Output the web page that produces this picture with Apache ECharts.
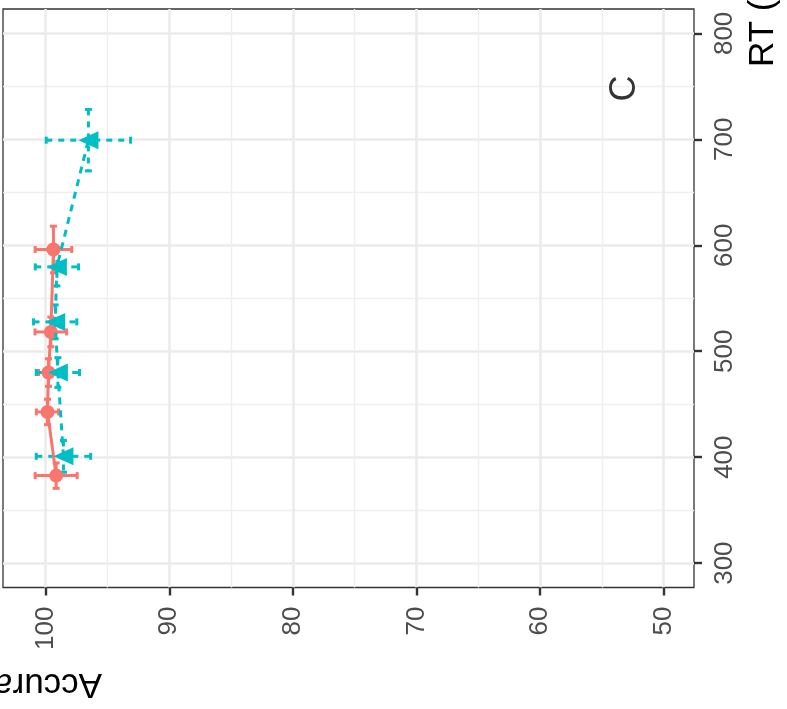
<!DOCTYPE html>
<html>
<head>
<meta charset="utf-8">
<script src="https://cdn.jsdelivr.net/npm/echarts@6/dist/echarts.min.js"></script>
<style>
html,body{margin:0;padding:0;background:#fff;}
#chart{width:787px;height:709px;}
</style>
</head>
<body>
<div id="chart"></div>
<script>
// Accuracy (%) and RT (ms) per condition, with error sizes
const redAcc    = [99.15, 99.85, 99.77, 99.58, 99.37];
const redRT     = [382.6, 442.7, 479.9, 518.2, 596.0];
const redAccErr = [1.7, 0.9, 0.8, 1.28, 1.48];
const redRTErr  = [12, 12, 13, 14, 22];

const tealAcc    = [98.56, 99.01, 99.23, 99.09, 96.54];
const tealRT     = [400.8, 479.9, 527.7, 579.6, 699.2];
const tealAccErr = [2.2, 1.75, 1.75, 1.75, 3.41];
const tealRTErr  = [15, 14, 16, 18, 29];

const accTicks = [50, 60, 70, 80, 90, 100];
const accMinor = [55, 65, 75, 85, 95];
const rtTicks  = [300, 400, 500, 600, 700, 800];
const rtMinor  = [350, 450, 550, 650, 750];

const panelLabel = 'C';
const panelLabelPos = [53.1, 748];

const FONT = 'Liberation Sans, Arial, Helvetica, sans-serif';
const RED = '#F8766D', TEAL = '#00BFC4';

function pts(a, r) { return a.map((v, i) => [v, r[i]]); }
function errs(a, r, ae, re) { return a.map((v, i) => [v, r[i], ae[i], re[i]]); }

function errRender(color, dash) {
  return function (params, api) {
    const acc = api.value(0), rt = api.value(1), ae = api.value(2), re = api.value(3);
    const l = api.coord([acc + ae, rt]), r = api.coord([acc - ae, rt]);
    const t = api.coord([acc, rt + re]), b = api.coord([acc, rt - re]);
    const cap = 3.5;
    const style = { stroke: color, lineWidth: 3, lineDash: dash, fill: null };
    const capStyle = { stroke: color, lineWidth: 3, fill: null };
    const ln = (x1, y1, x2, y2, s) => ({ type: 'line', shape: { x1, y1, x2, y2 }, style: s || style });
    return {
      type: 'group',
      children: [
        ln(l[0], l[1], r[0], r[1]),
        ln(l[0], l[1] - cap, l[0], l[1] + cap, capStyle),
        ln(r[0], r[1] - cap, r[0], r[1] + cap, capStyle),
        ln(t[0], t[1], b[0], b[1]),
        ln(t[0] - cap, t[1], t[0] + cap, t[1], capStyle),
        ln(b[0] - cap, b[1], b[0] + cap, b[1], capStyle)
      ]
    };
  };
}

const chart = echarts.init(document.getElementById('chart'), null, { renderer: 'canvas' });
const majorLine = { show: true, lineStyle: { color: '#EBEBEB', width: 2.6 } };
const minorLine = { show: true, lineStyle: { color: '#EFEFEF', width: 1.4 } };

chart.setOption({
  backgroundColor: '#ffffff',
  animation: false,
  grid: {
    left: 3, right: 93, top: 9, bottom: 121.5,
    show: true, borderColor: '#333333', borderWidth: 1.3, backgroundColor: 'transparent'
  },
  xAxis: [
    {
      type: 'value', inverse: true, min: 47.55, max: 103.45, position: 'bottom',
      axisLine: { show: false },
      axisTick: { show: true, length: 8, customValues: accTicks, lineStyle: { color: '#333333', width: 2.4 } },
      axisLabel: { show: true, customValues: accTicks, rotate: 90, margin: 19, fontSize: 26, color: '#4D4D4D', fontFamily: FONT },
      splitLine: majorLine
    },
    {
      type: 'value', inverse: true, min: 47.55, max: 103.45, position: 'bottom',
      axisLine: { show: false },
      axisTick: { show: false, customValues: accMinor },
      axisLabel: { show: false, customValues: accMinor },
      splitLine: minorLine
    }
  ],
  yAxis: [
    {
      type: 'value', min: 277, max: 823, position: 'right',
      axisLine: { show: false },
      axisTick: { show: true, length: 8, customValues: rtTicks, lineStyle: { color: '#333333', width: 2.4 } },
      axisLabel: { show: true, customValues: rtTicks, rotate: 90, margin: 18, fontSize: 26, color: '#4D4D4D', fontFamily: FONT },
      splitLine: majorLine
    },
    {
      type: 'value', min: 277, max: 823, position: 'right',
      axisLine: { show: false },
      axisTick: { show: false, customValues: rtMinor },
      axisLabel: { show: false, customValues: rtMinor },
      splitLine: minorLine
    }
  ],
  graphic: [
    {
      type: 'text', x: 102, y: 684, rotation: Math.PI,
      style: { text: 'Accuracy (%)', font: '35px ' + FONT, fill: '#000', textAlign: 'left', textVerticalAlign: 'middle' }
    },
    {
      type: 'text', x: 763, y: 67, rotation: Math.PI / 2,
      style: { text: 'RT (ms)', font: '35px ' + FONT, fill: '#000', textAlign: 'left', textVerticalAlign: 'middle' }
    }
  ],
  series: [
    {
      type: 'custom', name: 'redErr', data: errs(redAcc, redRT, redAccErr, redRTErr),
      renderItem: errRender(RED, null), z: 2
    },
    {
      type: 'custom', name: 'tealErr', data: errs(tealAcc, tealRT, tealAccErr, tealRTErr),
      renderItem: errRender(TEAL, [6, 6]), z: 2
    },
    {
      type: 'line', name: 'red', data: pts(redAcc, redRT),
      symbol: 'circle', symbolSize: 14, showSymbol: true,
      itemStyle: { color: RED }, lineStyle: { color: RED, width: 3 }, z: 3
    },
    {
      type: 'line', name: 'teal', data: pts(tealAcc, tealRT),
      symbol: 'triangle', symbolSize: [18, 20], symbolRotate: 90, showSymbol: true,
      itemStyle: { color: TEAL }, lineStyle: { color: TEAL, width: 3, type: [7, 6] }, z: 4
    },
    {
      type: 'scatter', name: 'panel', data: [panelLabelPos], symbolSize: 0,
      label: { show: true, position: 'inside', formatter: panelLabel, rotate: 90, fontSize: 36, color: '#000', fontFamily: FONT },
      z: 5
    }
  ]
});
</script>
</body>
</html>
